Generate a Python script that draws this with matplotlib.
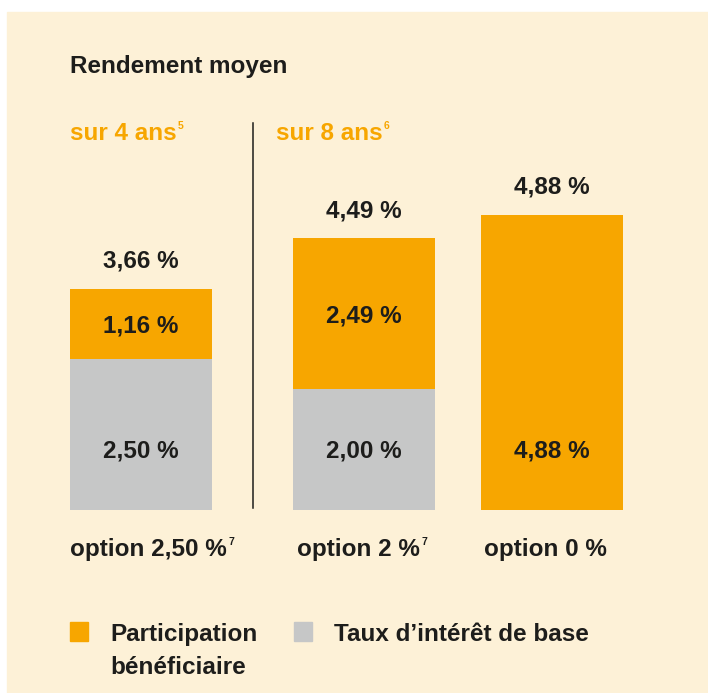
import matplotlib
matplotlib.use('Agg')
import matplotlib.pyplot as plt
from matplotlib.patches import Rectangle

# data
options = ['option 2,50 %', 'option 2 %', 'option 0 %']
option_notes = ['7', '7', '']
periods = ['sur 4 ans', 'sur 8 ans']
period_notes = ['5', '6']
base_rate = [2.50, 2.00, 0.00]
participation = [1.16, 2.49, 4.88]
totals = [3.66, 4.49, 4.88]
legend_labels = [['Participation', 'bénéficiaire'], ['Taux d’intérêt de base']]

ORANGE = '#F7A600'
GREY = '#C6C7C7'
BG = '#FDF1D7'
DARK = '#1D1D1B'
FS = 17.5

plt.rcParams['font.family'] = ['Liberation Sans', 'DejaVu Sans']
plt.rcParams['font.weight'] = 'bold'

W, H = 708, 693
fig = plt.figure(figsize=(W / 100, H / 100), dpi=100)
fig.patch.set_facecolor('white')

# overlay in pixel coordinates (y going down)
bg = fig.add_axes([0, 0, 1, 1])
bg.set_xlim(0, W)
bg.set_ylim(H, 0)
bg.axis('off')
bg.add_patch(Rectangle((7, 12), W - 7, H - 12, color=BG, zorder=0))

# bar axes: baseline at y=510px, ~60.5 px per percent point
px_per_unit = 60.5
ymax = 5.0
ax = fig.add_axes([0, (H - 510) / H, 1, ymax * px_per_unit / H])
ax.set_xlim(0, W)
ax.set_ylim(0, ymax)
ax.axis('off')
ax.patch.set_alpha(0)

bar_x = [141, 364, 552]
bar_w = 142
ax.bar(bar_x, base_rate, width=bar_w, color=GREY, zorder=2)
ax.bar(bar_x, participation, bottom=base_rate, width=bar_w, color=ORANGE, zorder=2)


def fmt(v):
    return f'{v:.2f}'.replace('.', ',') + ' %'


low_y = 1.0 - 8 / px_per_unit  # baseline of the lower label
for x, b, p, t in zip(bar_x, base_rate, participation, totals):
    ax.annotate(fmt(t), (x, t), xytext=(0, 21 * 0.72), textcoords='offset points',
                ha='center', va='baseline', fontsize=FS, color=DARK)
    if b > 0:
        ax.text(x, low_y, fmt(b), ha='center', va='baseline', fontsize=FS, color=DARK)
        ax.text(x, b + p / 2 - 9 / px_per_unit, fmt(p), ha='center', va='baseline',
                fontsize=FS, color=DARK)
    else:
        ax.text(x, low_y, fmt(p), ha='center', va='baseline', fontsize=FS, color=DARK)

renderer = fig.canvas.get_renderer()


def text_with_note(x, y, s, note, color):
    t = bg.text(x, y, s, ha='left', va='baseline', fontsize=FS, color=color)
    if note:
        bb = t.get_window_extent(renderer=renderer)
        x_end = bg.transData.inverted().transform((bb.x1, 0))[0]
        bg.text(x_end + 1.5, y - 11, note, ha='left', va='baseline',
                fontsize=7.5, color=color)


bg.text(70, 73, 'Rendement moyen', ha='left', va='baseline', fontsize=FS, color=DARK)

for x, s, n in zip([70, 276], periods, period_notes):
    text_with_note(x, 140, s, n, ORANGE)

bg.plot([253, 253], [123, 508], color=DARK, lw=1.1)

for x, s, n in zip([70, 297, 484], options, option_notes):
    text_with_note(x, 556, s, n, DARK)

# legend
for x, c, lines in zip([70, 294], [ORANGE, GREY], legend_labels):
    bg.add_patch(Rectangle((x, 622), 18, 19, color=c))
    for i, line in enumerate(lines):
        bg.text(x + 40, 641 + 33 * i, line, ha='left', va='baseline', fontsize=FS,
                color=DARK)

fig.savefig('out.png', dpi=100, facecolor=fig.get_facecolor())
